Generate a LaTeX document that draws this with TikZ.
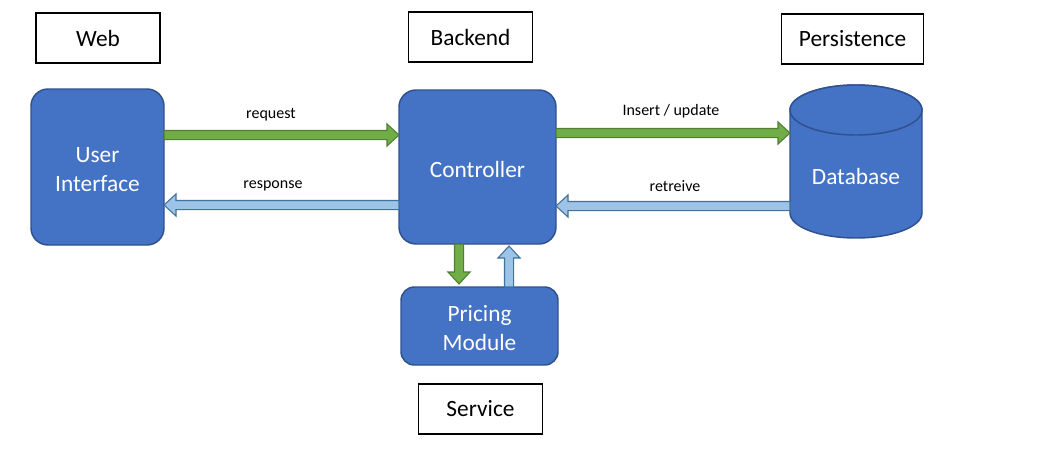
\documentclass[tikz,border=0pt]{standalone}
\usepackage{fontspec}
\setmainfont{Carlito}
\usetikzlibrary{calc}
\definecolor{boxblue}{HTML}{4472C4}
\definecolor{boxline}{HTML}{2F528F}
\definecolor{reqgreen}{HTML}{70AD47}
\definecolor{reqline}{HTML}{507E32}
\definecolor{resblue}{HTML}{9DC3E6}
\definecolor{resline}{HTML}{41719C}
\newcommand{\drop}[1]{\raisebox{-3.4pt}[\height][\depth]{\begin{tabular}{@{}c@{}}#1\end{tabular}}}
\tikzset{
  tier/.style={draw=black, line width=0.8pt, inner sep=0pt, outer sep=0pt,
    minimum width=93pt, minimum height=37.5pt, font=\fontsize{17.5}{21}\selectfont},
  part/.style={draw=boxline, fill=boxblue, line width=1.1pt, text=white, align=center,
    rounded corners=12.75pt, inner sep=0pt, outer sep=0pt,
    font=\fontsize{17.5}{21.75}\selectfont},
  store/.style={draw=boxline, fill=boxblue, line width=1.1pt},
  msg/.style={font=\fontsize{12}{14}\selectfont},
  fatarrow/.style 2 args={fill=#1, draw=#2, line width=0.8pt, line join=miter,
    to path={let \p1=(\tikztostart), \p2=(\tikztotarget), \p3=($(\p2)!9pt!(\p1)$) in
      ($(\p1)!3.4pt!90:(\p2)$) -- ($(\p3)!3.4pt!-90:(\p1)$) -- ($(\p3)!8.3pt!-90:(\p1)$)
      -- (\p2) -- ($(\p3)!8.3pt!90:(\p1)$) -- ($(\p3)!3.4pt!90:(\p1)$)
      -- ($(\p1)!3.4pt!-90:(\p2)$) -- cycle}},
  ask/.style={fatarrow={reqgreen}{reqline}},
  reply/.style={fatarrow={resblue}{resline}}
}
\begin{document}
\begin{tikzpicture}[x=0.75pt, y=-0.75pt]
        \useasboundingbox (0,0) rectangle (1046,450);

        % tiers
        \draw (98,38) node[tier] (web) {Web};
        \draw (470.5,37) node[tier] (backend) {Backend};
        \draw (852.5,39) node[tier, minimum width=107pt] (persist) {Persistence};
        \draw (480.5,409) node[tier] (service) {Service};

        % parts
        \draw (97.5,167) node[part, minimum width=99.75pt, minimum height=117pt] (ui) {\drop{User\\Interface}};
        \draw (477.5,167) node[part, minimum width=117.75pt, minimum height=115.5pt] (ctrl) {\drop{Controller}};
        \draw (479.5,326) node[part, rounded corners=10pt, minimum width=117.75pt, minimum height=58.5pt] (pricing) {\drop{Pricing\\Module}};

        % database
        \draw (856,161.5) node[inner sep=0pt, outer sep=0pt, minimum width=99pt, minimum height=114.75pt] (db) {};
        \draw[store] ($(db.north west)+(0,25)$) arc[start angle=180, end angle=360, x radius=66, y radius=25]
            -- ($(db.south east)+(0,-25)$) arc[start angle=0, end angle=180, x radius=66, y radius=25] -- cycle;
        \draw[store] ($(db.north)+(0,25)$) ellipse[x radius=66, y radius=25];
        \draw ($(db)+(0,14.5)$) node[text=white, font=\fontsize{17.5}{21}\selectfont] (dbtext) {Database};

        % messages
        \draw (271,115) node[msg] (request) {request};
        \draw (273,186) node[msg] (response) {response};
        \draw (671,111) node[msg] (insert) {Insert / update};
        \draw (675,186) node[msg] (retreive) {retreive};

        \draw[ask] ($(ui.east)+(0,-32)$) to ($(ctrl.west)+(0,-32)$);
        \draw[reply] ($(ctrl.west)+(0,38)$) to ($(ui.east)+(0,38)$);
        \draw[ask] ($(ctrl.east)+(0,-34)$) to ($(db.west)+(0,-28.5)$);
        \draw[reply] ($(db.west)+(0,44.5)$) to ($(ctrl.east)+(0,39)$);
        \draw[ask] ($(ctrl.south)+(-18.5,0)$) to ($(pricing.north)+(-20.5,-3)$);
        \draw[reply] ($(pricing.north)+(29.5,0)$) to ($(ctrl.south)+(31.5,2)$);
    \end{tikzpicture}
\end{document}
